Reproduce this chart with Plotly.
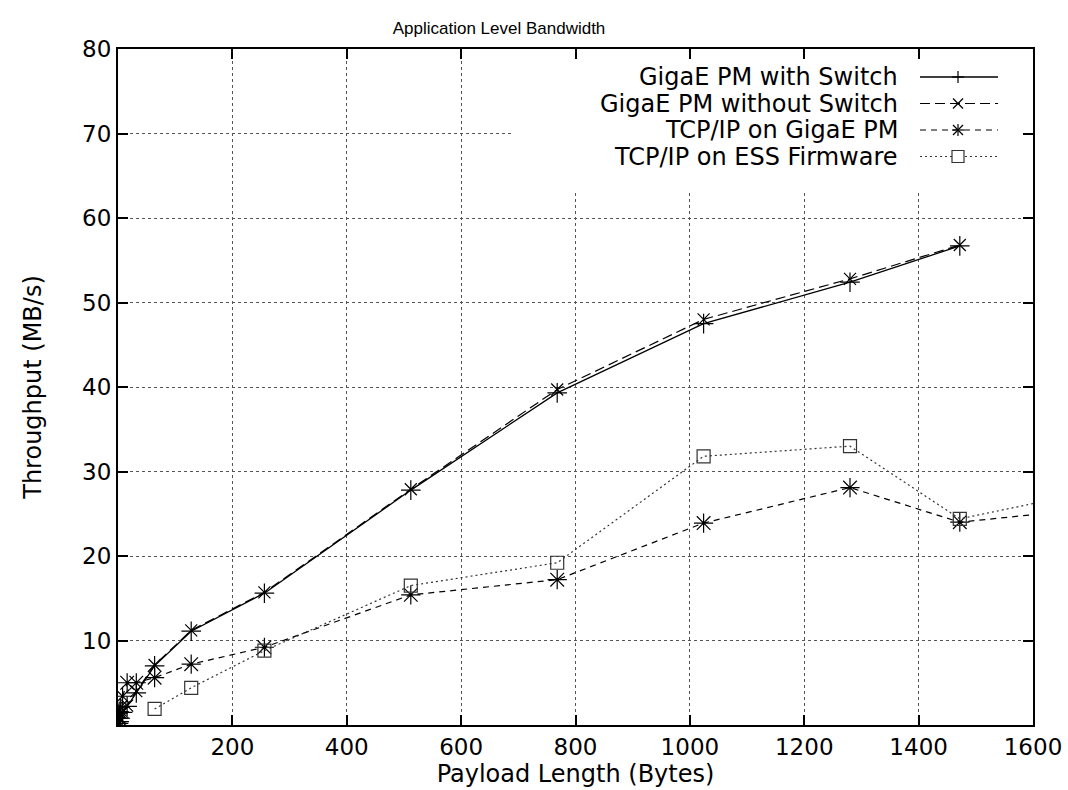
import plotly.graph_objects as go

# Payload sizes (bytes)
x_pm = [1, 2, 4, 8, 16, 32, 64, 128, 256, 512, 768, 1024, 1280, 1472]
x_tcp = [1, 2, 4, 8, 16, 32, 64, 128, 256, 512, 768, 1024, 1280, 1472, 2048]
x_ess = [64, 128, 256, 512, 768, 1024, 1280, 1472, 2048]

# Throughput (MB/s)
y_switch = [0.2, 0.4, 0.8, 1.5, 2.2, 3.8, 7.0, 11.1, 15.6, 27.8, 39.3, 47.5, 52.4, 56.7]
y_noswitch = [0.2, 0.4, 0.8, 1.5, 2.3, 4.0, 7.1, 11.2, 15.7, 27.9, 39.7, 48.0, 52.8, 56.8]
y_tcp = [0.8, 1.6, 2.1, 3.4, 5.0, 5.0, 5.6, 7.2, 9.2, 15.4, 17.2, 23.9, 28.1, 24.0, 28.0]
y_ess = [1.9, 4.4, 8.8, 16.5, 19.2, 31.8, 33.0, 24.4, 32.5]

names = ["GigaE PM with Switch", "GigaE PM without Switch",
         "TCP/IP on GigaE PM", "TCP/IP on ESS Firmware"]

x_ticks = [200, 400, 600, 800, 1000, 1200, 1400, 1600]
y_ticks = [10, 20, 30, 40, 50, 60, 70, 80]
X_RANGE = [0, 1600]
Y_RANGE = [0, 80]

FONT = "DejaVu Sans, Liberation Sans, sans-serif"
TITLE_FONT = "Liberation Sans, Arial, sans-serif"

# figure geometry (pixels)
W, H = 1068, 790
ML, MR, MT, MB = 118, 35, 49, 65
PW, PH = W - ML - MR, H - MT - MB


def px(xp):
    return (xp - ML) / PW


def py(yp):
    return (H - MB - yp) / PH


def dx(xp):
    return X_RANGE[0] + px(xp) * (X_RANGE[1] - X_RANGE[0])


def dy(yp):
    return Y_RANGE[0] + py(yp) * (Y_RANGE[1] - Y_RANGE[0])


styles = [
    dict(color="black", width=1.3, dash="solid"),
    dict(color="black", width=1.2, dash="10px,5px"),
    dict(color="black", width=1.2, dash="6px,5px"),
    dict(color="#333333", width=1.2, dash="2px,3px"),
]
symbols = ["cross-thin-open", "x-thin-open", "asterisk-open", "square-open"]
msizes = [14, 12, 16, 13]
xs = [x_pm, x_pm, x_tcp, x_ess]
ys = [y_switch, y_noswitch, y_tcp, y_ess]

fig = go.Figure()
for i in range(4):
    fig.add_trace(go.Scatter(x=xs[i], y=ys[i], name=names[i], mode="lines+markers",
                             line=styles[i], showlegend=False,
                             marker=dict(symbol=symbols[i], size=msizes[i],
                                         line=dict(color=styles[i]["color"], width=1.2))))

axis_common = dict(showline=True, linecolor="black", linewidth=2, mirror="ticks",
                   ticks="inside", ticklen=10, tickwidth=2, tickcolor="black",
                   showgrid=True, gridcolor="#555555", griddash="dot", gridwidth=1,
                   zeroline=False, automargin=False,
                   tickfont=dict(size=23, color="black", family=FONT))

fig.update_xaxes(range=X_RANGE, tickvals=x_ticks,
                 title=dict(text="Payload Length (Bytes)", standoff=0,
                            font=dict(size=24, color="black", family=FONT)),
                 **axis_common)
fig.update_yaxes(range=Y_RANGE, tickvals=y_ticks,
                 title=dict(text="Throughput (MB/s)", standoff=34,
                            font=dict(size=24, color="black", family=FONT)),
                 **axis_common)

# ---- gnuplot-style key: text right-aligned, sample on the right ----
shapes = []
annotations = []
# white key box hiding the grid (drawn between grid and traces)
shapes.append(dict(type="rect", xref="x", yref="y",
                   x0=dx(513), x1=dx(1033), y0=dy(190), y1=dy(49),
                   fillcolor="white", line=dict(width=0), layer="between"))
rows = [77, 103.5, 130, 156.5]
mx = 958
for i, r in enumerate(rows):
    annotations.append(dict(text=names[i], xref="paper", yref="paper",
                            x=px(900), y=py(r), xanchor="right", yanchor="middle",
                            showarrow=False, font=dict(size=24, family=FONT, color="black")))
    shapes.append(dict(type="line", xref="paper", yref="paper",
                       x0=px(920), x1=px(998), y0=py(r), y1=py(r),
                       line=dict(color=styles[i]["color"], width=styles[i]["width"],
                                 dash=styles[i]["dash"])))
    mk = dict(color=styles[i]["color"], width=1.2)
    segs = []
    if symbols[i] in ("cross-thin-open", "asterisk-open"):
        segs += [((mx - 6, r), (mx + 6, r)), ((mx, r - 6), (mx, r + 6))]
    if symbols[i] in ("x-thin-open", "asterisk-open"):
        segs += [((mx - 5, r - 5), (mx + 5, r + 5)), ((mx - 5, r + 5), (mx + 5, r - 5))]
    for (a, b) in segs:
        shapes.append(dict(type="line", xref="paper", yref="paper",
                           x0=px(a[0]), y0=py(a[1]), x1=px(b[0]), y1=py(b[1]), line=mk))
    if symbols[i] == "square-open":
        shapes.append(dict(type="rect", xref="paper", yref="paper",
                           x0=px(mx - 6), x1=px(mx + 6), y0=py(r + 6), y1=py(r - 6),
                           fillcolor="white", line=mk))

fig.update_layout(
    width=W, height=H,
    margin=dict(l=ML, r=MR, t=MT, b=MB),
    paper_bgcolor="white", plot_bgcolor="white",
    font=dict(family=FONT, size=24, color="black"),
    title=dict(text="Application Level Bandwidth", x=499 / W, xanchor="center",
               y=0.965, yanchor="middle", font=dict(size=17, family=TITLE_FONT, color="black")),
    shapes=shapes, annotations=annotations,
    showlegend=False,
)

fig.write_html("out.html")
